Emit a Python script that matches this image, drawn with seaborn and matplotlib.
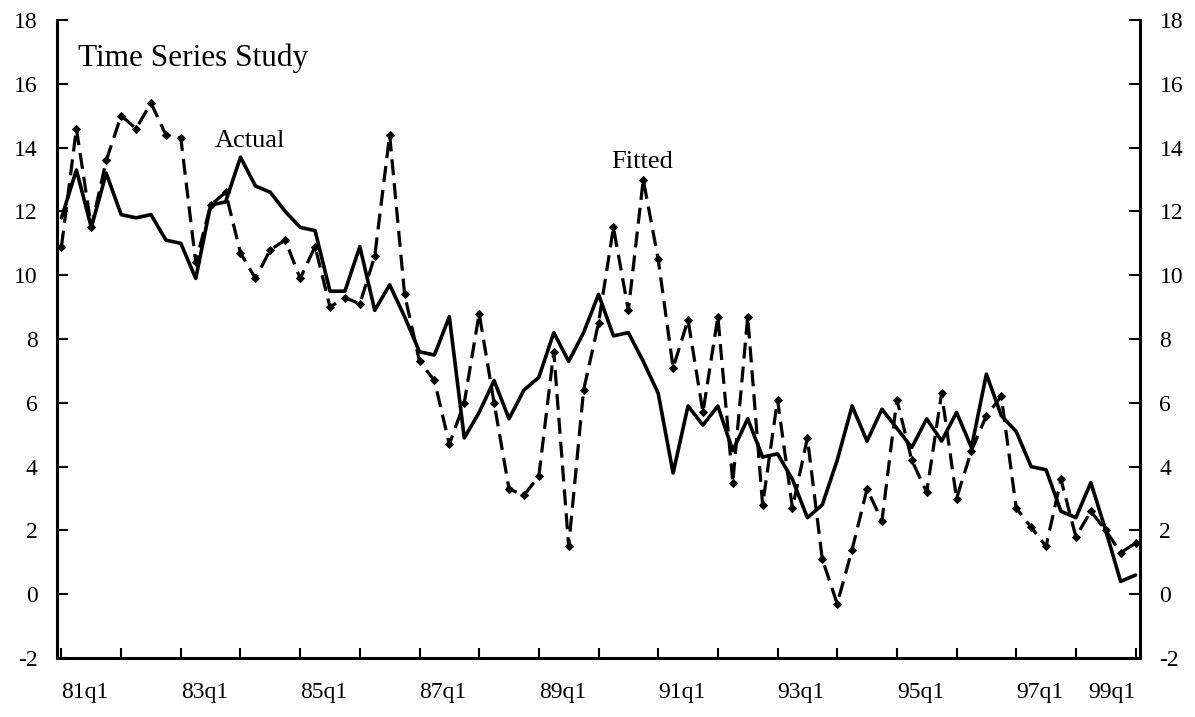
import numpy as np
import pandas as pd
import matplotlib
matplotlib.use('Agg')
import matplotlib.pyplot as plt
import seaborn as sns

# quarterly series, 81q1 .. 99q1
actual = [11.8, 13.3, 11.5, 13.2, 11.9, 11.8, 11.9, 11.1, 11.0, 9.9,
          12.2, 12.3, 13.7, 12.8, 12.6, 12.0, 11.5, 11.4, 9.5, 9.5,
          10.9, 8.9, 9.7, 8.7, 7.6, 7.5, 8.7, 4.9, 5.7, 6.7,
          5.5, 6.4, 6.8, 8.2, 7.3, 8.2, 9.4, 8.1, 8.2, 7.3,
          6.3, 3.8, 5.9, 5.3, 5.9, 4.5, 5.5, 4.3, 4.4, 3.6,
          2.4, 2.8, 4.2, 5.9, 4.8, 5.8, 5.2, 4.6, 5.5, 4.8,
          5.7, 4.6, 6.9, 5.6, 5.1, 4.0, 3.9, 2.6, 2.4, 3.5,
          2.0, 0.4, 0.6]
fitted = [10.9, 14.6, 11.5, 13.6, 15.0, 14.6, 15.4, 14.4, 14.3, 10.4,
          12.2, 12.6, 10.7, 9.9, 10.8, 11.1, 9.9, 10.9, 9.0, 9.3,
          9.1, 10.6, 14.4, 9.4, 7.3, 6.7, 4.7, 6.0, 8.8, 6.0,
          3.3, 3.1, 3.7, 7.6, 1.5, 6.4, 8.5, 11.5, 8.9, 13.0,
          10.5, 7.1, 8.6, 5.7, 8.7, 3.5, 8.7, 2.8, 6.1, 2.7,
          4.9, 1.1, -0.3, 1.4, 3.3, 2.3, 6.1, 4.2, 3.2, 6.3,
          3.0, 4.5, 5.6, 6.2, 2.7, 2.1, 1.5, 3.6, 1.8, 2.6,
          2.0, 1.3, 1.6]
tick_labels = ['81q1', '83q1', '85q1', '87q1', '89q1',
               '91q1', '93q1', '95q1', '97q1', '99q1']
y_ticks = [-2, 0, 2, 4, 6, 8, 10, 12, 14, 16, 18]

quarter = np.arange(len(actual))
df = pd.DataFrame({'quarter': quarter, 'Actual': actual, 'Fitted': fitted})

sns.set_style('white')
plt.rcParams['font.family'] = ['Liberation Serif', 'DejaVu Serif']
plt.rcParams['axes.unicode_minus'] = False
for key in ['text.color', 'xtick.color', 'ytick.color', 'axes.labelcolor']:
    plt.rcParams[key] = 'black'

fig = plt.figure(figsize=(11.95, 7.17), dpi=100)
ax = fig.add_axes([0.0477, 0.0823, 0.9063, 0.8897])

sns.lineplot(data=df, x='quarter', y='Actual', ax=ax, color='black',
             linewidth=2.6)
sns.lineplot(data=df, x='quarter', y='Fitted', ax=ax, color='black',
             linewidth=2.3, linestyle=(0, (5, 2.5)), marker='D',
             markersize=4.5, markeredgecolor='black')

ax.set_xlim(-0.3, 72.3)
ax.set_ylim(-2, 18)
ax.set_xlabel('')
ax.set_ylabel('')

ax.set_xticks(np.arange(0, 73, 8))
ax.set_xticks(np.arange(0, 73, 4), minor=True)
ax.set_xticklabels(tick_labels)
for i, lab in enumerate(ax.get_xticklabels()):
    lab.set_horizontalalignment('right' if i == len(tick_labels) - 1 else 'left')
ax.tick_params(axis='x', which='both', direction='in', length=7, width=1.5,
               labelsize=17, pad=17, top=False, bottom=True)

ax.set_yticks(y_ticks)
ax.tick_params(axis='y', which='major', direction='in', length=8, width=1.5,
               labelsize=17, left=True, right=True, labelleft=True,
               labelright=True, pad=14)

for side in ['left', 'right', 'bottom']:
    ax.spines[side].set_linewidth(2.2)
    ax.spines[side].set_color('black')
ax.spines['top'].set_visible(False)

ax.text(1.1, 16.8, 'Time Series Study', fontsize=22.5, va='center', ha='left')
ax.text(12.6, 14.2, 'Actual', fontsize=19, va='center', ha='center')
ax.text(38.9, 13.55, 'Fitted', fontsize=19, va='center', ha='center')

plt.savefig('out.png', dpi=100)
plt.close()
